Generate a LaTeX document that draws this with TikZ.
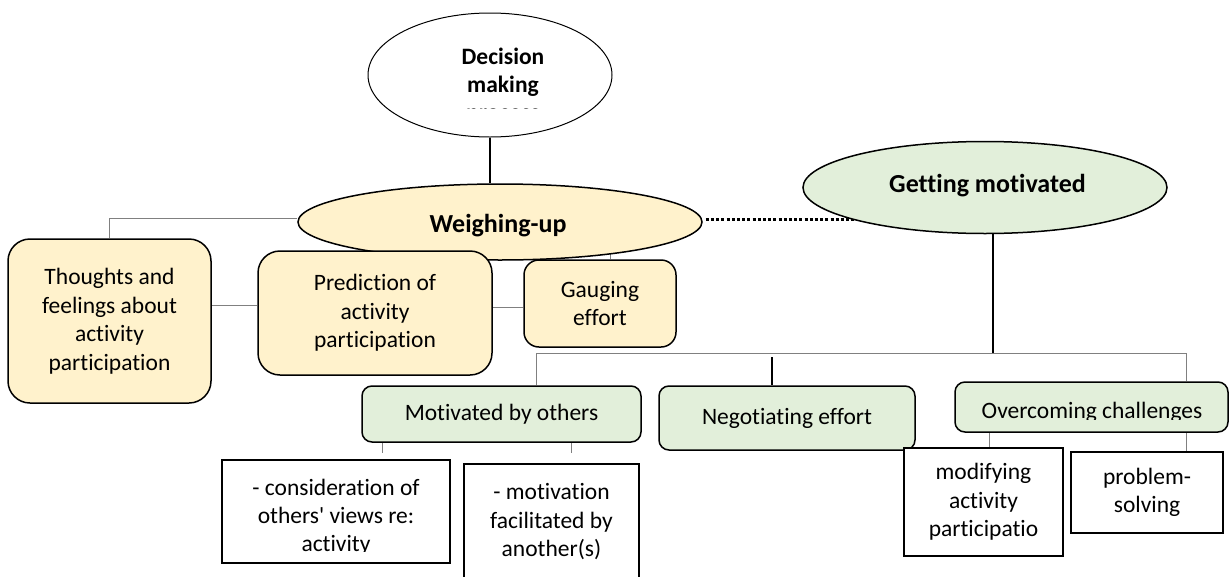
\documentclass[tikz,border=0pt]{standalone}
\usepackage{fontspec}
\setmainfont{Carlito}[Ligatures={NoCommon}]
\usetikzlibrary{shapes.geometric,backgrounds}
\definecolor{creamfill}{HTML}{FFF2CC}
\definecolor{sagefill}{HTML}{E2EFDA}
\definecolor{linkgray}{HTML}{808080}
\begin{document}
\begin{tikzpicture}[x=1pt,y=-1pt,
  bodytext/.style={font=\fontsize{23.5}{28.5}\selectfont, align=center},
  headtext/.style={font=\bfseries\fontsize{26}{31}\selectfont},
  oval/.style={ellipse, draw, line width=1.5pt, inner sep=0pt},
  creambox/.style={draw, line width=1.5pt, fill=creamfill, rounded corners=22pt, inner sep=0pt, bodytext},
  sagebox/.style={draw, line width=1.5pt, fill=sagefill, rounded corners=10pt, inner sep=0pt, bodytext},
  plainbox/.style={draw, line width=1.5pt, fill=white, inner sep=0pt, bodytext},
  link/.style={draw=linkgray, line width=1pt},
  stem/.style={draw=black, line width=1.5pt},
  dotlink/.style={draw=black, line width=3pt, dash pattern=on 3pt off 2.2pt},
]
\useasboundingbox (0,0) rectangle (1232,576);

% top oval with its three-line title (last line cut by the text area)
\node[oval, line width=1pt, fill=white, minimum width=244pt, minimum height=124pt] (dm) at (490,75) {};
\begin{scope}
  \clip (360,0) rectangle (620,108.5);
  \node[anchor=base, font=\bfseries\fontsize{23.5}{28}\selectfont] (dm1) at (503,64) {Decision};
  \node[anchor=base, font=\bfseries\fontsize{23.5}{28}\selectfont] (dm2) at (503,92) {making};
  \node[anchor=base, font=\bfseries\fontsize{23.5}{28}\selectfont] (dm3) at (503,120) {process};
\end{scope}

% the two theme ovals
\node[oval, fill=creamfill, minimum width=404pt, minimum height=76pt] (wu) at (500,222) {};
\node[headtext, anchor=base] (wutext) at (498,232) {Weighing-up};
\node[oval, fill=sagefill, minimum width=364pt, minimum height=92pt] (gm) at (985,187.5) {};
\node[headtext, anchor=base] (gmtext) at (987.5,192) {Getting motivated};

% weighing-up sub-themes
\node[creambox, minimum width=203pt, minimum height=164pt] (th) at (109.5,321) {Thoughts and\\feelings about\\activity\\participation};
\node[creambox, minimum width=234pt, minimum height=124pt] (pr) at (375,313) {Prediction of\\activity\\participation};
\node[creambox, rounded corners=15pt, minimum width=152pt, minimum height=87pt] (ge) at (600,303.5) {Gauging\\effort};

% getting-motivated sub-themes
\node[sagebox, minimum width=279pt, minimum height=56pt] (mo) at (501.5,414) {Motivated by others};
\node[sagebox, minimum width=256pt, minimum height=64pt] (ne) at (787,418) {Negotiating effort};
\node[sagebox, minimum width=273pt, minimum height=50pt] (oc) at (1091.5,407) {};
\begin{scope}
  \clip (955,382) rectangle (1228,419);
  \node[bodytext, anchor=base] (octext) at (1092,418) {Overcoming challenges};
\end{scope}

% codes
\node[plainbox, minimum width=228pt, minimum height=103pt] (co) at (336,511.5) {};
\begin{scope}
  \clip (222,460) rectangle (450,551);
  \node[bodytext, anchor=base] (co1) at (336,495) {- consideration of};
  \node[bodytext, anchor=base] (co2) at (336,523) {others\textquotesingle{} views re:};
  \node[bodytext, anchor=base] (co3) at (336,551) {activity};
\end{scope}
\node[plainbox, minimum width=175pt, minimum height=116pt] (mf) at (551.5,522) {- motivation\\facilitated by\\another(s)};
\node[plainbox, minimum width=159pt, minimum height=108pt] (md) at (983.5,502) {modifying\\activity\\participatio};
\node[plainbox, minimum width=152pt, minimum height=81pt] (ps) at (1147,492.5) {problem-\\solving};

% junction points of the tree lines
\coordinate (dotstart) at ([shift={(3,-3)}]wu.east);
\coordinate (hub) at (993,353);
\coordinate (barL) at (536,353);
\coordinate (barR) at (1186,353);
\coordinate (negtop) at (772,357);
\coordinate (lnA) at (234,305);
\coordinate (lnB) at (508,307);
\coordinate (lnC) at (610,250);
\coordinate (lnD) at (0,218);
\coordinate (tk1) at (382,453);
\coordinate (tk2) at (571,453);
\coordinate (dr1) at (989,0);
\coordinate (dr2) at (1186,0);

\begin{scope}[on background layer]
  \draw[stem] (dm.south) -- (dm.south |- wu.north);
  \draw[dotlink] (dotstart) -- (dotstart -| gm.center);
  \draw[link] (wu.west |- lnD) -| (th.north);
  \draw[link] (th.east |- lnA) -- (pr.west |- lnA);
  \draw[link] (pr.east |- lnB) -- (ge.west |- lnB);
  \draw[link] (ge.north -| lnC) -- (lnC);
  \draw[stem] (gm.south -| hub) -- (hub);
  \draw[link] (mo.north -| barL) -- (barL) -- (barR) -- (barR |- oc.north);
  \draw[stem] (negtop) -- (negtop |- ne.north);
  \draw[link] (mo.south -| tk1) -- (tk1);
  \draw[link] (mo.south -| tk2) -- (tk2);
  \draw[link] (oc.south -| dr1) -- (md.north -| dr1);
  \draw[link] (oc.south -| dr2) -- (ps.north -| dr2);
\end{scope}
\end{tikzpicture}
\end{document}
